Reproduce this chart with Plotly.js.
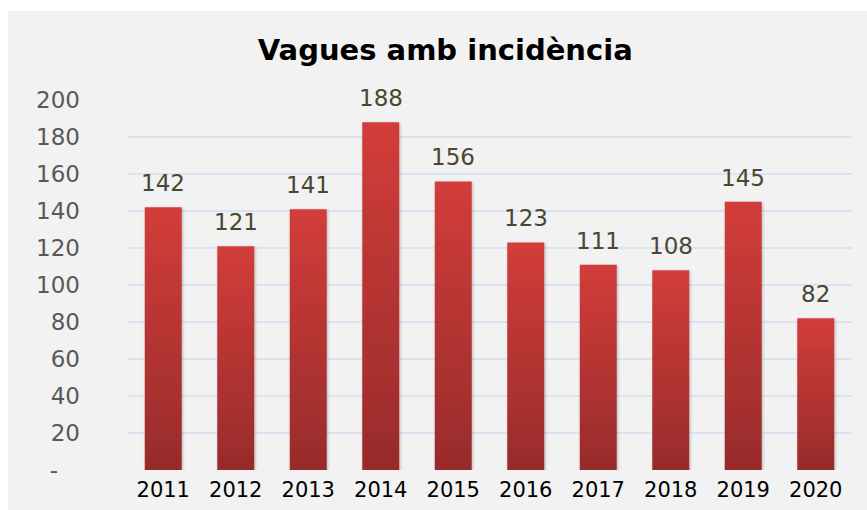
<!DOCTYPE html>
<html>
<head>
<meta charset="utf-8">
<script src="https://cdn.plot.ly/plotly-3.0.1.min.js"></script>
<style>
  body { margin: 0; background: #ffffff; }
  #chart { position: absolute; left: 8px; top: 11px; width: 859px; height: 499px; }
</style>
</head>
<body>
<div id="chart"></div>
<script>
// values
const years = ["2011", "2012", "2013", "2014", "2015", "2016", "2017", "2018", "2019", "2020"];
const waves = [142, 121, 141, 188, 156, 123, 111, 108, 145, 82];
const yTicks = [0, 20, 40, 60, 80, 100, 120, 140, 160, 180, 200];
const yTickText = ["-\u00a0\u00a0\u00a0", "20", "40", "60", "80", "100", "120", "140", "160", "180", "200"];

const font = "DejaVu Sans, Verdana, sans-serif";

const bars = {
  x: years,
  y: waves,
  type: "bar",
  marker: { color: "#c1393a" },
  hoverinfo: "x+y",
  cliponaxis: false
};

// value labels above each bar (category index as x)
const labels = years.map((yr, i) => ({
  x: i,
  y: waves[i],
  text: String(waves[i]),
  showarrow: false,
  yanchor: "bottom",
  yshift: 9,
  font: { family: font, size: 23, color: "#4a4731" }
}));

const layout = {
  title: {
    text: "<b>Vagues amb incidència</b>",
    font: { family: font, size: 29, color: "#000000" },
    x: 0.509,
    xanchor: "center",
    yref: "container",
    y: 0.922,
    yanchor: "middle"
  },
  paper_bgcolor: "#f2f2f2",
  plot_bgcolor: "#f2f2f2",
  margin: { l: 119, r: 15, t: 89, b: 40 },
  bargap: 0.49,
  showlegend: false,
  xaxis: {
    type: "category",
    range: [-0.5, 9.5],
    showgrid: false,
    zeroline: false,
    showline: false,
    ticks: "",
    ticklabelstandoff: 5,
    tickfont: { family: font, size: 21, color: "#000000" }
  },
  yaxis: {
    range: [0, 200],
    tickvals: yTicks,
    ticktext: yTickText,
    showgrid: true,
    gridcolor: "#d9e3f3",
    gridwidth: 1.5,
    zeroline: false,
    showline: false,
    ticks: "",
    ticklabelstandoff: 46,
    tickfont: { family: font, size: 23, color: "#595959" }
  },
  annotations: labels
};

Plotly.newPlot("chart", [bars], layout, { displayModeBar: false, staticPlot: true }).then(gd => {
  // vertical red gradient on the bars, like the original
  const svg = gd.querySelector(".main-svg");
  const ns = "http://www.w3.org/2000/svg";
  let defs = svg.querySelector("defs");
  const grad = document.createElementNS(ns, "linearGradient");
  grad.setAttribute("id", "barGrad");
  grad.setAttribute("x1", "0"); grad.setAttribute("y1", "0");
  grad.setAttribute("x2", "0"); grad.setAttribute("y2", "1");
  [["0", "#d23d3a"], ["1", "#982b2b"]].forEach(([off, col]) => {
    const s = document.createElementNS(ns, "stop");
    s.setAttribute("offset", off);
    s.setAttribute("stop-color", col);
    grad.appendChild(s);
  });
  defs.appendChild(grad);
  const filt = document.createElementNS(ns, "filter");
  filt.setAttribute("id", "barShadow");
  filt.setAttribute("x", "-20%"); filt.setAttribute("y", "-5%");
  filt.setAttribute("width", "140%"); filt.setAttribute("height", "110%");
  filt.innerHTML = '<feDropShadow dx="1" dy="1" stdDeviation="1.5" flood-color="#000" flood-opacity="0.25"/>';
  defs.appendChild(filt);
  gd.querySelectorAll(".bars .point path").forEach(p => {
    p.style.fill = "url(#barGrad)";
    p.setAttribute("filter", "url(#barShadow)");
  });
});
</script>
</body>
</html>
